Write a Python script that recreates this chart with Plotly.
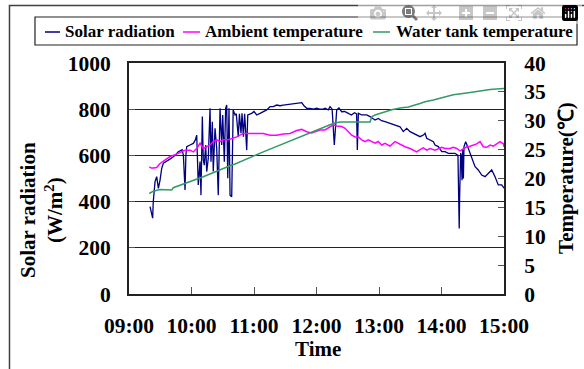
import pandas as pd
import plotly.graph_objects as go

# ---- data (minutes after 09:00) ----
solar_min = [20.2, 21.0, 22.7, 23.3, 25.0, 26.6, 28.2, 29.8, 31.4, 33.0, 35.5, 37.8, 40.0, 42.5, 45.0, 47.3,
             49.5, 51.0, 52.2, 53.8, 54.6, 55.4, 58.6, 61.7, 63.5, 65.0, 66.5, 68.2, 69.1, 70.4, 71.3, 72.3,
             73.6, 74.6, 76.1, 77.8, 78.7, 80.0, 80.9, 82.6, 84.2, 85.7, 87.4, 89.0, 90.0, 91.5, 92.8, 93.8,
             94.8, 96.0, 97.0, 98.6, 100.0, 101.8, 103.0, 104.9, 106.0, 107.5, 108.5, 109.8, 111.0, 113.0,
             114.0, 117.8, 120.0, 122.6, 125.8, 129.0, 132.2, 135.4, 138.5, 141.8, 145.0, 148.1, 151.0, 154.6,
             158.0, 161.0, 163.5, 165.8, 168.0, 170.6, 173.8, 177.0, 180.2, 183.0, 186.5, 188.2, 191.3, 193.0,
             195.0, 197.1, 199.4, 201.5, 204.2, 207.0, 210.6, 213.5, 216.5, 218.5, 219.2, 220.2, 223.4, 228.2,
             231.4, 234.0, 236.2, 239.3, 242.5, 245.8, 250.6, 255.4, 260.2, 263.3, 266.6, 269.8, 273.0, 276.2,
             279.4, 282.6, 284.2, 285.8, 289.0, 292.2, 293.8, 297.0, 300.2, 303.4, 306.5, 309.8, 313.0, 315.8,
             316.2, 316.6, 317.0, 317.4, 317.8, 318.4, 319.0, 319.7, 320.4, 321.0, 321.6, 323.2, 325.7, 329.0,
             332.2, 335.3, 338.6, 341.8, 345.0, 348.2, 351.4, 354.5, 357.8, 360.0]
solar_val = [378, 364, 328, 400, 486, 508, 457, 493, 544, 566, 572, 580, 586, 594, 603, 616,
             620, 625, 600, 450, 600, 638, 645, 652, 665, 688, 472, 573, 428, 768, 580, 558,
             645, 530, 587, 804, 573, 746, 530, 717, 631, 428, 804, 645, 775, 573, 804, 818,
             501, 804, 428, 421, 797, 775, 780, 681, 780, 696, 782, 681, 780, 623,
             775, 782, 790, 775, 782, 790, 797, 811, 811, 818, 815, 818, 820, 822,
             822, 825, 826, 828, 815, 804, 804, 800, 804, 800, 800, 804, 797, 811,
             800, 645, 797, 805, 789, 790, 782, 775, 785, 780, 623, 782, 775, 775,
             768, 760, 753, 760, 750, 746, 739, 732, 724, 703, 717, 703, 695, 688,
             681, 688, 696, 674, 667, 659, 645, 638, 616, 616, 609, 609, 609, 600,
             420, 290, 284, 420, 594, 610, 600, 493, 623, 500, 638, 659, 631, 587,
             551, 537, 515, 508, 522, 537, 508, 472, 472, 458]

amb_min = [19.5, 21.5, 23.3, 26.6, 29.8, 34.6, 39.4, 44.2, 49.0, 52.1, 55.4, 58.6, 61.7, 65.0, 68.2, 71.3,
           74.6, 77.8, 80.9, 84.2, 87.4, 90.5, 95.3, 100.1, 103.4, 109.8, 116.2, 122.6, 128.9, 135.4, 141.8,
           148.1, 154.6, 161.0, 165.8, 170.6, 175.4, 178.6, 183.4, 188.2, 191.3, 196.1, 199.4, 204.2, 207.4,
           210.6, 213.8, 217.0, 220.2, 223.4, 226.6, 229.7, 233.0, 236.2, 239.3, 242.6, 245.8, 250.6, 255.4,
           258.5, 261.8, 265.0, 269.8, 273.0, 276.2, 279.4, 282.6, 285.8, 289.0, 293.8, 297.0, 300.2, 303.4,
           308.2, 311.3, 314.6, 317.8, 320.9, 324.2, 327.4, 330.5, 333.8, 337.0, 340.1, 343.4, 346.6, 349.8,
           353.0, 356.2, 359.4, 360.0]
amb_val = [22.0, 21.8, 21.8, 21.9, 22.6, 23.2, 23.8, 24.1, 24.6, 24.8, 24.9, 24.9, 24.6, 25.2, 26.1, 25.2,
           25.5, 25.8, 26.4, 26.7, 26.4, 26.7, 26.7, 27.0, 27.2, 27.8, 27.8, 27.7, 27.8, 27.5, 27.5,
           27.7, 27.8, 28.3, 28.5, 28.1, 27.9, 28.1, 28.4, 28.4, 28.7, 29.3, 29.1, 29.0, 28.7,
           28.1, 27.5, 27.2, 27.2, 26.7, 26.4, 26.7, 26.4, 26.1, 26.4, 25.8, 26.1, 25.6, 26.4,
           26.1, 25.8, 25.5, 25.2, 24.9, 24.6, 25.0, 25.3, 24.9, 25.2, 24.9, 25.2, 25.4, 25.2,
           25.2, 25.4, 25.2, 24.8, 25.1, 25.5, 25.6, 25.8, 26.0, 26.4, 25.5, 25.4, 25.8, 25.6,
           26.0, 26.4, 26.0, 25.5]

water_min = [19.5, 23.3, 29.8, 36.2, 41.0, 42.5, 71.3, 97.0, 101.8, 128.9, 161.0, 188.2, 193.0, 197.8,
             202.6, 231.4, 233.0, 236.2, 252.2, 260.2, 268.2, 279.4, 284.2, 292.2, 311.3, 324.2, 343.4,
             346.6, 359.4, 360.0]
water_val = [17.4, 17.8, 18.1, 18.0, 18.0, 18.4, 20.3, 22.2, 22.5, 24.6, 27.0, 29.0, 29.3, 29.6,
             29.8, 29.8, 30.7, 31.0, 31.9, 32.2, 32.4, 33.0, 33.3, 33.6, 34.5, 34.8, 35.3,
             35.4, 35.6, 35.6]

series_names = ["Solar radiation", "Ambient temperature", "Water tank temperature"]
series_colors = ["#000080", "#FF00FF", "#339966"]
x_tick_labels = ["09:00", "10:00", "11:00", "12:00", "13:00", "14:00", "15:00"]

base = pd.Timestamp("2020-01-01 09:00")
def to_t(mins):
    return [base + pd.Timedelta(minutes=m) for m in mins]

FONT = "Liberation Serif, Times New Roman, serif"

fig = go.Figure()
fig.add_trace(go.Scatter(x=to_t(solar_min), y=solar_val, mode="lines", name=series_names[0],
                         line=dict(color=series_colors[0], width=1.3)))
fig.add_trace(go.Scatter(x=to_t(amb_min), y=amb_val, mode="lines", name=series_names[1],
                         line=dict(color=series_colors[1], width=1.5), yaxis="y2"))
fig.add_trace(go.Scatter(x=to_t(water_min), y=water_val, mode="lines", name=series_names[2],
                         line=dict(color=series_colors[2], width=1.5), yaxis="y2"))

tickvals = [base + pd.Timedelta(hours=h) for h in range(7)]

# legend drawn as a row of key lines + labels inside a framed box (paper coordinates)
leg_y = 1.1342
leg_sym = [(-0.224, -0.184), (0.144, 0.1893), (0.6507, 0.696)]
leg_txt_x = [-0.176, 0.1973, 0.7067]

annotations = [
    dict(text="Time", xref="paper", yref="paper", x=0.503, y=-0.238, showarrow=False,
         xanchor="center", yanchor="middle", font=dict(family=FONT, size=21, weight="bold")),
    dict(text="Solar radiation<br>(W/m<sup>2</sup>)", xref="paper", yref="paper", x=-0.232, y=0.364,
         showarrow=False, textangle=-90, xanchor="center", yanchor="middle",
         font=dict(family=FONT, size=21, weight="bold")),
    dict(text="Temperature(℃)", xref="paper", yref="paper", x=1.165, y=0.502,
         showarrow=False, textangle=-90, xanchor="center", yanchor="middle",
         font=dict(family=FONT, size=21, weight="bold")),
]
shapes = [
    dict(type="rect", xref="paper", yref="paper", x0=-0.3187, x1=1.389, y0=-0.545, y1=1.249,
         line=dict(color="#404040", width=1.5), fillcolor="rgba(0,0,0,0)", layer="below"),
    dict(type="rect", xref="paper", yref="paper", x0=-0.2507, x1=1.1947, y0=1.0779, y1=1.1991,
         line=dict(color="#222", width=1.2), fillcolor="rgba(0,0,0,0)", layer="below"),
]
for name, color, (sx0, sx1), tx in zip(series_names, series_colors, leg_sym, leg_txt_x):
    shapes.append(dict(type="line", xref="paper", yref="paper", x0=sx0, x1=sx1, y0=leg_y, y1=leg_y,
                       line=dict(color=color, width=1.5)))
    annotations.append(dict(text=name, xref="paper", yref="paper", x=tx, y=leg_y, showarrow=False,
                            xanchor="left", yanchor="middle",
                            font=dict(family=FONT, size=17, weight="bold")))

fig.update_layout(
    width=584, height=369,
    margin=dict(l=129, r=80, t=63, b=75),
    paper_bgcolor="white", plot_bgcolor="white",
    font=dict(family=FONT, color="black"),
    showlegend=False,
    xaxis=dict(range=[tickvals[0], tickvals[-1]], tickvals=tickvals, ticktext=x_tick_labels,
               showgrid=False, showline=True, linecolor="#222", linewidth=2, mirror=True,
               ticks="inside", ticklen=7, tickcolor="#555", tickwidth=1,
               tickfont=dict(family=FONT, size=21.5, weight="bold"), ticklabelstandoff=11,
               zeroline=False),
    yaxis=dict(range=[0, 1000], dtick=200, showgrid=True, gridcolor="#222", gridwidth=1,
               showline=True, linecolor="#222", linewidth=2, mirror=True,
               ticks="inside", ticklen=6, tickcolor="#555",
               tickfont=dict(family=FONT, size=21.5, weight="bold"), ticklabelstandoff=12,
               zeroline=False),
    yaxis2=dict(range=[0, 40], dtick=5, overlaying="y", side="right", showgrid=False,
                showline=True, linecolor="#222", linewidth=2,
                ticks="inside", ticklen=6, tickcolor="#555",
                tickfont=dict(family=FONT, size=21.5, weight="bold"), ticklabelstandoff=14,
                zeroline=False),
    annotations=annotations,
    shapes=shapes,
)

fig.write_html("out.html",
               post_script="document.body.style.margin='0';document.body.style.padding='0';")
